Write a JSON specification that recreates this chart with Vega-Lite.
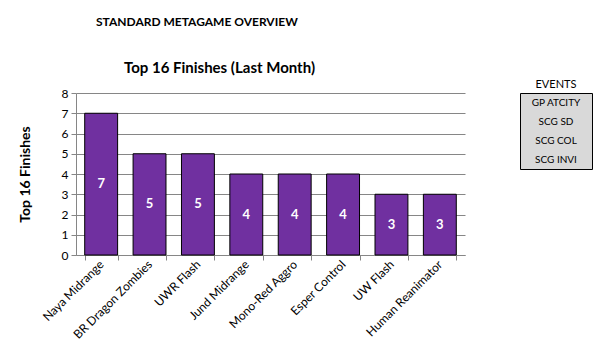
{
  "$schema": "https://vega.github.io/schema/vega-lite/v6.json",
  "padding": {"left": 18, "top": 16, "right": 0, "bottom": 0},
  "background": "white",
  "title": {
    "text": "STANDARD METAGAME OVERVIEW",
    "anchor": "start",
    "frame": "bounds",
    "dx": 78,
    "fontSize": 12,
    "font": "Lato",
    "fontWeight": "bold",
    "color": "black",
    "offset": 32
  },
  "config": {
    "font": "Lato",
    "axis": {"labelFont": "Lato", "titleFont": "Lato", "labelColor": "black", "titleColor": "black"}
  },
  "spacing": 54,
  "hconcat": [
    {
      "width": 389,
      "height": 162,
      "view": {"stroke": null},
      "title": {
        "text": "Top 16 Finishes (Last Month)",
        "fontSize": 15,
        "fontWeight": "bold",
        "font": "Lato",
        "color": "black",
        "anchor": "middle",
        "frame": "group",
        "dx": -51,
        "offset": 11
      },
      "data": {
        "values": [
          {"deck": "Naya Midrange", "finishes": 7},
          {"deck": "BR Dragon Zombies", "finishes": 5},
          {"deck": "UWR Flash", "finishes": 5},
          {"deck": "Jund Midrange", "finishes": 4},
          {"deck": "Mono-Red Aggro", "finishes": 4},
          {"deck": "Esper Control", "finishes": 4},
          {"deck": "UW Flash", "finishes": 3},
          {"deck": "Human Reanimator", "finishes": 3}
        ]
      },
      "encoding": {
        "x": {
          "field": "deck",
          "type": "nominal",
          "sort": null,
          "scale": {"paddingInner": 0.32, "paddingOuter": 0.18},
          "axis": {
            "title": null,
            "labelAngle": -45,
            "labelAlign": "right",
            "labelBaseline": "middle",
            "labelFontSize": 12,
            "labelPadding": 2,
            "tickBand": "extent",
            "tickSize": 5,
            "tickColor": "#868686",
            "domainColor": "#868686"
          }
        }
      },
      "layer": [
        {
          "mark": {"type": "bar", "color": "#7030A0", "stroke": "black", "strokeWidth": 1},
          "encoding": {
            "y": {
              "field": "finishes",
              "type": "quantitative",
              "scale": {"domain": [0, 8], "nice": false},
              "axis": {
                "title": "Top 16 Finishes",
                "titleFontSize": 14,
                "titleFontWeight": "bold",
                "titlePadding": 29,
                "values": [0, 1, 2, 3, 4, 5, 6, 7, 8],
                "labelOverlap": false,
                "labelFontSize": 12,
                "labelPadding": 3,
                "tickSize": 5,
                "tickColor": "#868686",
                "domainColor": "#868686",
                "grid": true,
                "gridColor": "#868686",
                "gridOpacity": 1
              }
            }
          }
        },
        {
          "transform": [{"calculate": "datum.finishes / 2", "as": "mid"}],
          "mark": {"type": "text", "color": "white", "fontWeight": "bold", "fontSize": 13, "baseline": "middle"},
          "encoding": {
            "y": {
              "field": "mid",
              "type": "quantitative",
              "scale": {"domain": [0, 8], "nice": false},
              "axis": {
                "title": "Top 16 Finishes",
                "titleFontSize": 14,
                "titleFontWeight": "bold",
                "titlePadding": 29,
                "values": [0, 1, 2, 3, 4, 5, 6, 7, 8],
                "labelOverlap": false,
                "labelFontSize": 12,
                "labelPadding": 3,
                "tickSize": 5,
                "tickColor": "#868686",
                "domainColor": "#868686",
                "grid": true,
                "gridColor": "#868686",
                "gridOpacity": 1
              }
            },
            "text": {"field": "finishes", "type": "quantitative"}
          }
        }
      ]
    },
    {
      "width": 72,
      "height": 76,
      "view": {"stroke": "black", "fill": "#d9d9d9", "strokeWidth": 1},
      "title": {
        "text": "EVENTS",
        "fontSize": 11,
        "fontWeight": "normal",
        "font": "Lato",
        "color": "black",
        "anchor": "middle",
        "offset": 3
      },
      "data": {
        "values": [
          {"event": "GP ATCITY", "order": 1},
          {"event": "SCG SD", "order": 2},
          {"event": "SCG COL", "order": 3},
          {"event": "SCG INVI", "order": 4}
        ]
      },
      "mark": {"type": "text", "fontSize": 10, "color": "black", "font": "Lato"},
      "encoding": {
        "y": {"field": "order", "type": "ordinal", "axis": null, "scale": {"paddingOuter": 0.25}},
        "text": {"field": "event", "type": "nominal"}
      }
    }
  ]
}
